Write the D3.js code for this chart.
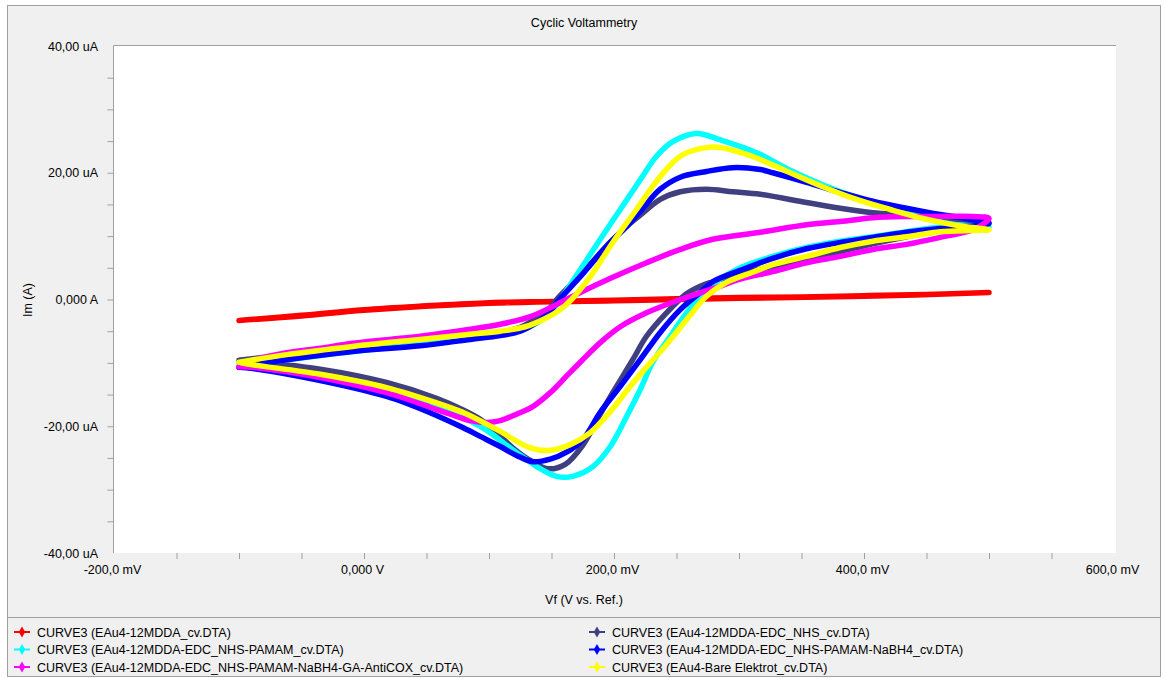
<!DOCTYPE html>
<html>
<head>
<meta charset="utf-8">
<script src="https://cdn.jsdelivr.net/npm/d3@7"></script>
<style>
  html, body { margin: 0; padding: 0; background: #ffffff; }
  svg { display: block; }
  text { font-family: "Liberation Sans", Arial, sans-serif; fill: #000; }
</style>
</head>
<body>
<svg id="chart" width="1164" height="678"></svg>
<script>
// Axis ticks and labels (potential in mV, current in uA)
const voltageTicks = [-200, 0, 200, 400, 600];
const voltageTickLabels = ["-200,0 mV", "0,000 V", "200,0 mV", "400,0 mV", "600,0 mV"];
const voltageMinorTicks = [-150, -100, -50, 0, 50, 100, 150, 200, 250, 300, 350, 400, 450, 500, 550];
const currentTicks = [-40, -20, 0, 20, 40];
const currentTickLabels = ["-40,00 uA", "-20,00 uA", "0,000 A", "20,00 uA", "40,00 uA"];
const currentMinorTicks = [-35, -30, -25, -20, -15, -10, -5, 0, 5, 10, 15, 20, 25, 30, 35];

// Legend entries, in drawing order
const seriesNames = [
  "CURVE3 (EAu4-12MDDA_cv.DTA)",
  "CURVE3 (EAu4-12MDDA-EDC_NHS_cv.DTA)",
  "CURVE3 (EAu4-12MDDA-EDC_NHS-PAMAM_cv.DTA)",
  "CURVE3 (EAu4-12MDDA-EDC_NHS-PAMAM-NaBH4_cv.DTA)",
  "CURVE3 (EAu4-12MDDA-EDC_NHS-PAMAM-NaBH4-GA-AntiCOX_cv.DTA)",
  "CURVE3 (EAu4-Bare Elektrot_cv.DTA)"
];
const seriesColors = ["#ff0000", "#404080", "#00ffff", "#0000ff", "#ff00ff", "#ffff00"];

// Scans: [potential mV, current uA], forward sweep then reverse sweep
const curve12MDDA = [
  [-100, -3.3], [-50, -2.5], [0, -1.6], [50, -1.0], [100, -0.5], [150, -0.3], [200, -0.1],
  [250, 0.1], [300, 0.3], [350, 0.4], [400, 0.6], [450, 0.8], [500, 1.1],
  [400, 0.5], [300, 0.2], [200, -0.2], [100, -0.6], [0, -1.7], [-50, -2.6], [-100, -3.3]
];

const curveEdcNhs = [
  [-100, -9.6], [-62, -8.7], [-9, -7.6], [45, -6.6], [85, -5.8], [109, -5.2], [125, -4.4],
  [139, -2.8], [149, -1.3], [155, 0.2], [173, 3.8], [194, 8.4], [210, 11.5], [221, 13.3],
  [237, 15.8], [253, 17.0], [274, 17.4], [295, 17.0], [317, 16.6], [354, 15.3], [381, 14.4],
  [407, 13.7], [434, 13.3], [461, 12.8], [500, 12.1],
  [461, 10.9], [434, 9.9], [407, 8.8], [381, 7.6], [354, 6.3], [327, 5.2], [301, 4.1],
  [279, 2.8], [269, 2.1], [258, 0.9], [242, -2.1], [226, -5.8], [215, -9.5], [199, -14.7],
  [189, -18.1], [175, -23.0], [161, -26.0], [147, -26.7], [133, -25.4], [119, -23.4],
  [106, -21.0], [93, -18.9], [79, -17.4], [58, -15.6], [18, -13.1], [-35, -11.0],
  [-89, -9.8], [-100, -9.6]
];

const curvePamam = [
  [-100, -10.1], [-62, -9.5], [-9, -8.2], [45, -7.1], [85, -6.2], [109, -5.5], [125, -4.9],
  [139, -3.6], [149, -2.1], [157, 0.0], [173, 4.7], [189, 9.5], [205, 14.2], [221, 18.9],
  [234, 22.6], [247, 24.9], [266, 26.2], [285, 25.2], [303, 24.0], [317, 22.9], [341, 20.4],
  [367, 18.1], [394, 16.1], [421, 14.4], [447, 12.9], [474, 11.8], [500, 11.5],
  [461, 11.4], [434, 10.7], [407, 9.9], [381, 9.2], [354, 8.2], [327, 6.8], [301, 5.0],
  [274, 1.6], [258, -2.1], [245, -5.8], [231, -9.9], [221, -14.2], [210, -18.5],
  [197, -23.2], [183, -26.4], [167, -27.9], [154, -27.9], [141, -26.7], [119, -23.7],
  [93, -20.0], [58, -16.9], [18, -14.4], [-35, -12.3], [-89, -10.6], [-100, -10.1]
];

const curveNaBH4 = [
  [-100, -10.7], [-62, -9.5], [-9, -8.2], [45, -7.3], [85, -6.3], [109, -5.7], [125, -5.0],
  [139, -3.5], [149, -1.9], [155, -0.3], [173, 3.6], [194, 8.4], [210, 11.5], [221, 13.9],
  [237, 17.4], [253, 19.3], [274, 20.2], [295, 20.8], [317, 20.5], [327, 20.0], [354, 18.5],
  [381, 16.9], [407, 15.5], [434, 14.4], [461, 13.4], [487, 12.6], [500, 12.0],
  [474, 11.4], [461, 11.2], [434, 10.6], [407, 9.8], [381, 9.0], [354, 8.0], [327, 6.5],
  [301, 4.6], [279, 2.8], [269, 1.1], [253, -1.6], [237, -5.2], [221, -9.5], [205, -13.7],
  [189, -17.8], [175, -22.1], [162, -24.1], [149, -25.2], [135, -25.6], [122, -24.6],
  [109, -23.2], [93, -21.6], [79, -20.2], [58, -18.3], [37, -16.6], [18, -15.3],
  [-35, -12.8], [-89, -10.9], [-100, -10.7]
];

const curveAntiCOX = [
  [-100, -10.6], [-89, -9.6], [-62, -8.4], [-35, -7.7], [-9, -6.9], [45, -5.8], [85, -4.7],
  [109, -3.9], [133, -2.7], [153, -0.9], [173, 1.1], [199, 3.5], [226, 5.8], [253, 7.9],
  [279, 9.5], [317, 10.6], [354, 11.8], [381, 12.3], [407, 12.9], [434, 13.1], [461, 13.1],
  [487, 13.1], [500, 12.8],
  [487, 11.0], [461, 9.8], [434, 8.7], [407, 7.9], [381, 6.8], [354, 5.8], [327, 4.4],
  [301, 3.2], [279, 1.7], [253, 0.0], [226, -2.1], [205, -4.3], [189, -6.8], [175, -9.5],
  [162, -12.1], [149, -14.7], [135, -16.9], [122, -18.1], [109, -19.1], [98, -19.4],
  [85, -19.1], [69, -18.1], [53, -17.0], [37, -15.9], [18, -14.7], [-35, -12.3],
  [-89, -10.7], [-100, -10.6]
];

const curveBare = [
  [-100, -9.9], [-62, -8.7], [-9, -7.4], [45, -6.3], [85, -5.5], [109, -5.0], [129, -4.3],
  [145, -3.0], [157, -1.6], [166, 0.0], [181, 3.6], [199, 9.0], [218, 14.2], [237, 19.4],
  [253, 22.6], [269, 23.8], [285, 24.0], [306, 22.9], [317, 22.1], [341, 20.0], [367, 17.8],
  [394, 15.8], [421, 14.2], [447, 12.8], [474, 11.7], [500, 11.0],
  [487, 10.9], [461, 10.7], [434, 9.9], [407, 9.2], [381, 8.2], [354, 6.8], [327, 5.5],
  [311, 4.3], [290, 2.7], [274, 0.5], [258, -3.2], [242, -7.1], [226, -10.7], [213, -13.7],
  [197, -17.7], [181, -21.0], [165, -22.9], [149, -23.8], [133, -23.4], [106, -20.5],
  [79, -17.8], [58, -16.3], [18, -13.9], [-35, -11.8], [-89, -10.3], [-100, -9.9]
];

const seriesData = [curve12MDDA, curveEdcNhs, curvePamam, curveNaBH4, curveAntiCOX, curveBare];

// ---- layout ----
const svg = d3.select("#chart");
const plot = { left: 114, right: 1116, top: 46, bottom: 553 };
const fontSize = 12.5;

const x = d3.scaleLinear().domain([-200, 600]).range([114, 1114]);
const y = d3.scaleLinear().domain([-40, 40]).range([plot.bottom, plot.top]);

// outer panel
svg.append("rect")
  .attr("x", 7.5).attr("y", 5.5).attr("width", 1153).attr("height", 671)
  .attr("fill", "#f0f0f0").attr("stroke", "#a0a0a0").attr("stroke-width", 1);

// legend separator
svg.append("line")
  .attr("x1", 8).attr("x2", 1160).attr("y1", 617.5).attr("y2", 617.5)
  .attr("stroke", "#a0a0a0").attr("stroke-width", 1);

// plot area
svg.append("rect")
  .attr("x", plot.left).attr("y", plot.top)
  .attr("width", plot.right - plot.left).attr("height", plot.bottom - plot.top)
  .attr("fill", "#ffffff");
svg.append("path")
  .attr("d", `M${plot.left - 0.5},${plot.bottom}V${plot.top - 0.5}H${plot.right}`)
  .attr("fill", "none").attr("stroke", "#a0a0a0").attr("stroke-width", 1);

// minor tick marks
const yMinor = svg.append("g").attr("transform", `translate(${plot.left - 0.5},0)`)
  .call(d3.axisLeft(y).tickValues(currentMinorTicks).tickSize(6).tickFormat(""));
yMinor.select(".domain").remove();
yMinor.selectAll("line").attr("stroke", "#a0a0a0");

const xMinor = svg.append("g").attr("transform", `translate(0,${plot.bottom})`)
  .call(d3.axisBottom(x).tickValues(voltageMinorTicks).tickSize(6).tickFormat(""));
xMinor.select(".domain").remove();
xMinor.selectAll("line").attr("stroke", "#a0a0a0");

// tick labels
const yLab = svg.append("g").attr("transform", `translate(${plot.left},0)`)
  .call(d3.axisLeft(y).tickValues(currentTicks).tickSize(0).tickPadding(16)
    .tickFormat((d, i) => currentTickLabels[i]));
yLab.select(".domain").remove();
yLab.selectAll("text").attr("font-family", "Liberation Sans, Arial, sans-serif")
  .attr("font-size", fontSize).attr("fill", "#000");

const xLab = svg.append("g").attr("transform", `translate(-2,${plot.bottom})`)
  .call(d3.axisBottom(x).tickValues(voltageTicks).tickSize(0).tickPadding(12)
    .tickFormat((d, i) => voltageTickLabels[i]));
xLab.select(".domain").remove();
xLab.selectAll("text").attr("font-family", "Liberation Sans, Arial, sans-serif")
  .attr("font-size", fontSize).attr("fill", "#000");

// titles
svg.append("text").attr("x", 584).attr("y", 27).attr("text-anchor", "middle")
  .attr("font-size", fontSize).text("Cyclic Voltammetry");
svg.append("text").attr("x", 584).attr("y", 604).attr("text-anchor", "middle")
  .attr("font-size", fontSize).text("Vf (V vs. Ref.)");
svg.append("text").attr("transform", "translate(32,300) rotate(-90)")
  .attr("text-anchor", "middle").attr("font-size", fontSize).text("Im (A)");

// curves
const line = d3.line()
  .x(d => x(d[0]))
  .y(d => y(d[1]))
  .curve(d3.curveCatmullRom.alpha(0.5));

svg.append("g").selectAll("path")
  .data(seriesData)
  .join("path")
  .attr("d", line)
  .attr("fill", "none")
  .attr("stroke", (d, i) => seriesColors[i])
  .attr("stroke-width", 5.5)
  .attr("stroke-linecap", "round")
  .attr("stroke-linejoin", "round");

// legend: two columns, row-major
const legendCols = [22, 597];
const legendRows = [632, 649.5, 667];
const legend = svg.append("g").selectAll("g")
  .data(seriesNames)
  .join("g")
  .attr("transform", (d, i) => `translate(${legendCols[i % 2]},${legendRows[Math.floor(i / 2)]})`);
legend.append("line")
  .attr("x1", -8).attr("x2", 8).attr("y1", 0).attr("y2", 0)
  .attr("stroke", d => seriesColors[seriesNames.indexOf(d)]).attr("stroke-width", 2);
legend.append("path")
  .attr("d", d3.symbol(d3.symbolDiamond, 36))
  .attr("fill", d => seriesColors[seriesNames.indexOf(d)]);
legend.append("text")
  .attr("x", 15).attr("y", 4.5).attr("font-size", fontSize)
  .text(d => d);
</script>
</body>
</html>
